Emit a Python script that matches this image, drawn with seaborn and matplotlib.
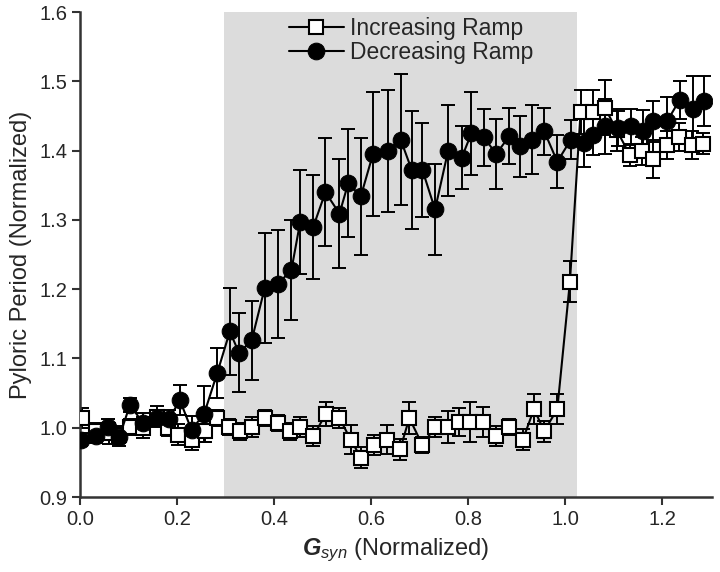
import numpy as np
import pandas as pd
import matplotlib
matplotlib.use("Agg")
import matplotlib.pyplot as plt
import seaborn as sns

# Increasing ramp (open squares)
inc_x = [0.005, 0.033, 0.06, 0.081, 0.104, 0.13, 0.158, 0.182, 0.203, 0.23,
         0.258, 0.283, 0.308, 0.33, 0.354, 0.381, 0.409, 0.432, 0.454, 0.481,
         0.507, 0.535, 0.558, 0.579, 0.606, 0.632, 0.66, 0.679, 0.706, 0.732,
         0.759, 0.782, 0.805, 0.83, 0.858, 0.885, 0.913, 0.936, 0.957, 0.984,
         1.01, 1.032, 1.058, 1.082, 1.106, 1.134, 1.158, 1.182, 1.21, 1.234,
         1.261, 1.285]
inc_y = [1.014, 0.995, 0.992, 0.99, 1.001, 1.0, 1.016, 1.0, 0.99, 0.983,
         0.995, 1.014, 1.001, 0.995, 1.001, 1.014, 1.007, 0.995, 1.001, 0.988,
         1.02, 1.014, 0.983, 0.957, 0.975, 0.983, 0.969, 1.014, 0.975, 1.001,
         1.001, 1.008, 1.008, 1.008, 0.988, 1.001, 0.983, 1.027, 0.995, 1.027,
         1.211, 1.456, 1.456, 1.462, 1.43, 1.393, 1.399, 1.388, 1.408, 1.42,
         1.408, 1.41]
inc_err = [0.015, 0.012, 0.015, 0.012, 0.012, 0.015, 0.015, 0.012, 0.015, 0.015,
           0.015, 0.012, 0.012, 0.012, 0.015, 0.012, 0.012, 0.012, 0.015, 0.015,
           0.017, 0.015, 0.021, 0.015, 0.015, 0.021, 0.015, 0.023, 0.012, 0.015,
           0.023, 0.02, 0.029, 0.022, 0.015, 0.012, 0.015, 0.022, 0.015, 0.022,
           0.03, 0.032, 0.032, 0.04, 0.03, 0.015, 0.02, 0.028, 0.02, 0.02,
           0.02, 0.015]

# Decreasing ramp (filled circles)
dec_x = [0.003, 0.033, 0.058, 0.081, 0.103, 0.13, 0.158, 0.184, 0.206, 0.23,
         0.256, 0.283, 0.309, 0.328, 0.354, 0.381, 0.409, 0.436, 0.454, 0.481,
         0.506, 0.535, 0.553, 0.579, 0.604, 0.634, 0.661, 0.684, 0.706, 0.732,
         0.759, 0.787, 0.807, 0.833, 0.858, 0.885, 0.907, 0.931, 0.957, 0.984,
         1.012, 1.038, 1.058, 1.082, 1.11, 1.136, 1.161, 1.182, 1.21, 1.236,
         1.263, 1.287]
dec_y = [0.983, 0.988, 1.001, 0.986, 1.033, 1.007, 1.014, 1.013, 1.040, 0.997,
         1.020, 1.079, 1.139, 1.108, 1.126, 1.202, 1.208, 1.228, 1.297, 1.290,
         1.340, 1.309, 1.353, 1.334, 1.395, 1.40, 1.416, 1.372, 1.372, 1.315,
         1.40, 1.390, 1.425, 1.419, 1.395, 1.421, 1.406, 1.416, 1.428, 1.384,
         1.416, 1.411, 1.423, 1.435, 1.432, 1.435, 1.428, 1.442, 1.442, 1.473,
         1.460, 1.472]
dec_err = [0.01, 0.01, 0.012, 0.012, 0.01, 0.015, 0.012, 0.012, 0.022, 0.02,
           0.04, 0.036, 0.063, 0.057, 0.057, 0.079, 0.078, 0.072, 0.075, 0.075,
           0.078, 0.079, 0.078, 0.084, 0.09, 0.088, 0.094, 0.085, 0.068, 0.065,
           0.066, 0.046, 0.06, 0.041, 0.05, 0.041, 0.044, 0.05, 0.034, 0.038,
           0.028, 0.035, 0.03, 0.04, 0.025, 0.025, 0.03, 0.03, 0.035, 0.028,
           0.048, 0.036]

shade_lo, shade_hi = 0.297, 1.024

sns.set_style("ticks")
plt.rcParams["font.family"] = ["Liberation Sans", "DejaVu Sans"]
plt.rcParams["mathtext.fontset"] = "custom"
plt.rcParams["mathtext.rm"] = "Liberation Sans"
plt.rcParams["mathtext.it"] = "Liberation Sans:italic"
plt.rcParams["mathtext.bf"] = "Liberation Sans:bold:italic"

fig = plt.figure(figsize=(7.2, 5.72), dpi=100)
ax = fig.add_axes([0.111, 0.131, 0.878, 0.848])

ax.axvspan(shade_lo, shade_hi, color="#dcdcdc", zorder=0, lw=0)

ax.errorbar(inc_x, inc_y, yerr=inc_err, fmt="none", ecolor="black",
            elinewidth=1.4, capsize=5, capthick=1.4, zorder=2)
ax.errorbar(dec_x, dec_y, yerr=dec_err, fmt="none", ecolor="black",
            elinewidth=1.4, capsize=5, capthick=1.4, zorder=2)

sns.lineplot(x=inc_x, y=inc_y, ax=ax, color="black", lw=1.5, marker="s",
             markersize=10, markerfacecolor="white", markeredgecolor="black",
             markeredgewidth=1.5, label="Increasing Ramp", zorder=3)
sns.lineplot(x=dec_x, y=dec_y, ax=ax, color="black", lw=1.5, marker="o",
             markersize=12, markerfacecolor="black", markeredgecolor="black",
             label="Decreasing Ramp", zorder=4)

ax.set_xlim(0, 1.303)
ax.set_ylim(0.9, 1.6)
ax.set_xticks([0.0, 0.2, 0.4, 0.6, 0.8, 1.0, 1.2])
ax.set_yticks([0.9, 1.0, 1.1, 1.2, 1.3, 1.4, 1.5, 1.6])
ax.xaxis.set_major_formatter(matplotlib.ticker.FormatStrFormatter("%.1f"))
ax.yaxis.set_major_formatter(matplotlib.ticker.FormatStrFormatter("%.1f"))
ax.tick_params(labelsize=14.5, length=6, width=1.5, color="#333333", pad=3)
for s in ["left", "bottom"]:
    ax.spines[s].set_linewidth(1.8)
    ax.spines[s].set_color("#333333")
sns.despine(ax=ax)

ax.set_xlabel(r"$\mathbf{G}_{\mathit{syn}}$ (Normalized)", fontsize=17, labelpad=6)
ax.set_ylabel("Pyloric Period (Normalized)", fontsize=17, labelpad=5)

ax.legend(loc="upper left", bbox_to_anchor=(0.33, 0.99), frameon=False,
          fontsize=16.5, handlelength=2.4, handletextpad=0.3,
          labelspacing=0.05, borderaxespad=0, borderpad=0)

fig.savefig("out.png", dpi=100)
